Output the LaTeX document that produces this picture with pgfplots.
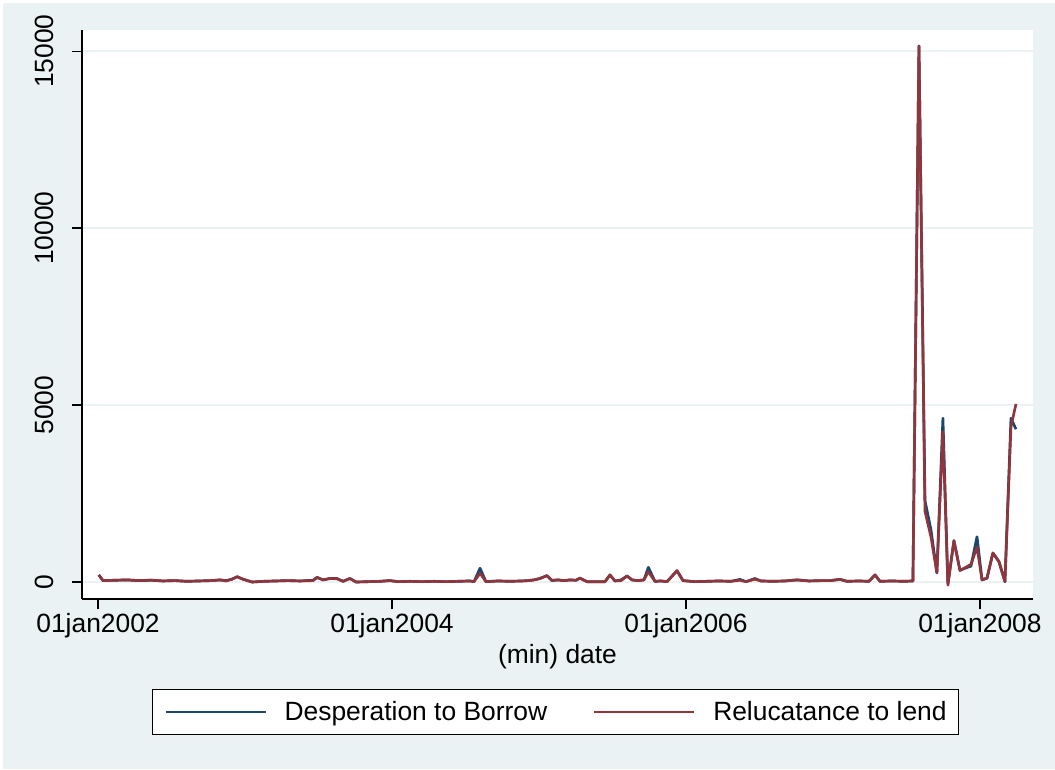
\documentclass[border=0pt]{standalone}
\usepackage{fontspec}
\setmainfont{Liberation Sans}
\usepackage{pgfplots}
\pgfplotsset{compat=1.18}
\definecolor{stbg}{RGB}{234,242,243}
\definecolor{stnavy}{RGB}{26,71,111}
\definecolor{stmaroon}{RGB}{144,53,59}

% date (decimal years), desperation to borrow, reluctance to lend
\pgfplotstableread{
x        borrow lend
2002.005 200    200
2002.034 40     40
2002.116 50     50
2002.197 60     60
2002.279 40     40
2002.361 50     55
2002.442 30     30
2002.524 40     40
2002.605 20     20
2002.687 30     30
2002.769 40     40
2002.830 60     60
2002.871 40     30
2002.912 80     80
2002.946 150    150
2002.986 80     80
2003.048 0      0
2003.129 20     20
2003.211 30     30
2003.293 40     40
2003.374 30     30
2003.463 50     40
2003.490 130    130
2003.531 60     60
2003.578 100    100
2003.626 100    90
2003.667 20     20
2003.714 100    100
2003.755 0      0
2003.837 10     10
2003.918 20     20
2003.986 40     40
2004.041 10     10
2004.122 20     20
2004.204 10     10
2004.286 20     20
2004.367 10     10
2004.449 20     20
2004.531 30     30
2004.558 10     10
2004.599 390    250
2004.639 10     10
2004.721 30     30
2004.803 20     20
2004.884 30     30
2004.925 40     40
2004.966 60     60
2005.007 100    100
2005.054 180    180
2005.088 40     50
2005.129 60     60
2005.170 40     40
2005.211 60     60
2005.252 50     50
2005.279 110    110
2005.327 10     10
2005.408 10     10
2005.449 10     10
2005.483 200    200
2005.517 30     30
2005.558 60     40
2005.599 170    170
2005.633 60     60
2005.673 40     40
2005.714 60     60
2005.744 415    290
2005.789 20     20
2005.830 30     30
2005.871 10     10
2005.939 320    320
2005.980 40     40
2006.061 10     10
2006.143 20     20
2006.224 30     30
2006.306 20     20
2006.367 75     50
2006.408 10     10
2006.469 100    80
2006.510 30     30
2006.592 20     20
2006.673 30     30
2006.755 60     60
2006.837 30     30
2006.918 40     40
2006.980 40     40
2007.048 75     75
2007.095 20     20
2007.177 30     30
2007.245 20     20
2007.286 200    200
2007.320 20     20
2007.401 30     30
2007.483 20     20
2007.544 30     30
2007.585 15150  15150
2007.626 2300   2000
2007.667 1470   1270
2007.707 260    260
2007.748 4630   4250
2007.782 -50    -90
2007.823 1170   1170
2007.864 330    330
2007.905 400    420
2007.939 450    500
2007.980 1280   990
2008.014 60     60
2008.048 110    110
2008.088 820    820
2008.129 580    580
2008.170 10     10
2008.211 4630   4390
2008.245 4320   5030
}\ratesdata

\begin{document}
\begin{tikzpicture}
\useasboundingbox (-61.5pt,-127.5pt) rectangle (729.75pt,449.25pt);
\fill[stbg] (-59.25pt,-127.5pt) rectangle (729.75pt,447pt);
\begin{axis}[
    at={(0pt,0pt)}, anchor=south west,
    width=713.25pt, height=426.75pt, scale only axis,
    xmin=2001.891, xmax=2008.361,
    ymin=-480, ymax=15600,
    scaled y ticks=false, scaled x ticks=false,
    axis x line*=bottom, axis y line*=left,
    axis line style={line width=1.2pt, black, -},
    axis background/.style={fill=white},
    xtick={2002,2004,2006,2008},
    xticklabels={01jan2002,01jan2004,01jan2006,01jan2008},
    ytick={0,5000,10000,15000},
    yticklabels={0,5000,10000,15000},
    yticklabel style={rotate=90, anchor=south},
    yticklabel shift=10pt,
    tick align=outside, major tick length=7.5pt,
    tick style={black, line width=1pt},
    ymajorgrids, grid style={stbg, line width=1.5pt},
    every tick label/.append style={font=\fontsize{19.8}{24}\selectfont},
    xlabel={(min) date},
    xlabel style={at={(axis description cs:0.5,-0.1125)}, anchor=base,
        font=\fontsize{19.8}{24}\selectfont},
    legend columns=2,
    legend style={at={(axis description cs:0.498,-0.199)}, anchor=center,
        draw=black, line width=0.9pt, fill=white,
        font=\fontsize{19.8}{24}\selectfont,
        inner xsep=9pt, inner ysep=9pt,
        nodes={inner sep=0pt},
        /tikz/every odd column/.append style={column sep=13.5pt},
        /tikz/every even column/.append style={column sep=34.5pt}},
    legend image code/.code={\draw[#1, line width=1.5pt] (0pt,0pt) -- (75pt,0pt);},
]
\addplot[stnavy, line width=2pt, line join=round] table[x=x, y=borrow] {\ratesdata};
\addlegendentry{Desperation to Borrow}
\addplot[stmaroon, line width=2pt, line join=round] table[x=x, y=lend] {\ratesdata};
\addlegendentry{Relucatance to lend}
\end{axis}
\end{tikzpicture}
\end{document}
